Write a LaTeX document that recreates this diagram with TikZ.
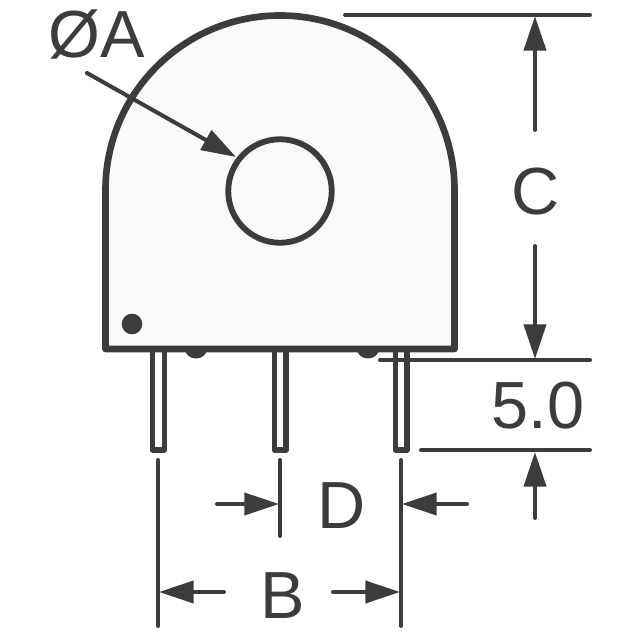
\documentclass[tikz,border=0pt]{standalone}
\usepackage{fontspec}
\setmainfont{Liberation Sans}
\usetikzlibrary{arrows.meta}
\definecolor{ink}{HTML}{3C3C3C}
\definecolor{bodyfill}{HTML}{FAFAFA}
\tikzset{
  outline/.style={draw=ink,line width=5pt,line join=round},
  pinline/.style={draw=ink,line width=4.2pt,line join=round,fill=white},
  dimline/.style={draw=ink,line width=3pt,line cap=round},
  arrowline/.style={draw=ink,line width=3pt,line cap=round,-{Triangle[length=26pt,width=16.5pt,color=ink]}},
  dimlabel/.style={text=ink,font=\fontsize{50}{50}\selectfont,inner sep=0pt,anchor=center},
}
\begin{document}
\begin{tikzpicture}[x=0.75pt,y=-0.75pt]
\useasboundingbox (0,0) rectangle (640,640);
\fill[white] (0,0) rectangle (640,640);
% pins
\draw[pinline] (152.5,350) -- (152.5,450) -- (164.5,450) -- (164.5,350);
\draw[pinline] (274.5,350) -- (274.5,450) -- (286,450) -- (286,350);
\draw[pinline] (395.5,350) -- (395.5,450) -- (407,450) -- (407,350);
% bumps under the body
\fill[ink] (185,349) arc[start angle=180,end angle=360,x radius=11,y radius=-9.5] -- cycle;
\fill[ink] (357,349) arc[start angle=180,end angle=360,x radius=11,y radius=-9.5] -- cycle;
% body
\path[outline,fill=bodyfill] (105.5,349) -- (105.5,190) arc[start angle=180,end angle=0,radius=174.5,y radius=-174.5] -- (454.5,349) -- cycle;
\node[circle,draw=ink,line width=4.4pt,fill=bodyfill,minimum size=103.5*0.75pt,inner sep=0pt] (hole) at (280,191) {};
\node[circle,fill=ink,minimum size=15.5pt,inner sep=0pt] (dot) at (132,324) {};
% coordinates
\coordinate (topL) at (345,15); \coordinate (topR) at (590,15);
\coordinate (midL) at (380,360); \coordinate (midR) at (590,360);
\coordinate (lowL) at (421,450); \coordinate (lowR) at (590,450);
\coordinate (extBt) at (158,460); \coordinate (extBb) at (158,626);
\coordinate (extMt) at (280,460); \coordinate (extMb) at (280,536);
\coordinate (extRt) at (401,460); \coordinate (extRb) at (401,626);
\coordinate (cUpS) at (535,130); \coordinate (cUpE) at (535,16);
\coordinate (cDnS) at (535,246); \coordinate (cDnE) at (535,359);
\coordinate (fUpS) at (535,518); \coordinate (fUpE) at (535,452);
\coordinate (dLS) at (217,504); \coordinate (dLE) at (279,504);
\coordinate (dRS) at (467,504); \coordinate (dRE) at (402,504);
\coordinate (bLS) at (224,592); \coordinate (bLE) at (159,592);
\coordinate (bRS) at (333,592); \coordinate (bRE) at (400,592);
\coordinate (aS) at (87,73); \coordinate (aE) at (236,157);
% extension lines
\draw[dimline] (topL) -- (topR);
\draw[dimline] (midL) -- (midR);
\draw[dimline] (lowL) -- (lowR);
\draw[dimline] (extBt) -- (extBb);
\draw[dimline] (extMt) -- (extMb);
\draw[dimline] (extRt) -- (extRb);
% arrows
\draw[arrowline] (cUpS) -- (cUpE);
\draw[arrowline] (cDnS) -- (cDnE);
\draw[arrowline] (fUpS) -- (fUpE);
\draw[arrowline] (dLS) -- (dLE);
\draw[arrowline] (dRS) -- (dRE);
\draw[arrowline] (bLS) -- (bLE);
\draw[arrowline] (bRS) -- (bRE);
\draw[arrowline] (aS) -- (aE);
% labels
\node[dimlabel] (lA) at (96.5,34) {ØA};
\node[dimlabel] (lC) at (536,192) {C};
\node[dimlabel] (l5) at (538,406) {5.0};
\node[dimlabel] (lD) at (342,506) {D};
\node[dimlabel] (lB) at (283,596) {B};
\end{tikzpicture}
\end{document}
